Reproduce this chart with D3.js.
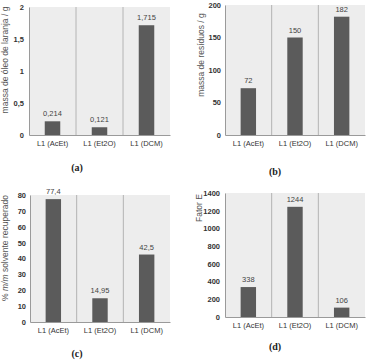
<!DOCTYPE html>
<html><head><meta charset="utf-8">
<script src="https://cdn.jsdelivr.net/npm/d3@7"></script>
<style>body{margin:0;background:#fff}svg{display:block}</style>
</head><body>
<svg id="c" width="370" height="363"></svg>
<script>
const categories = ["L1 (AcEt)", "L1 (Et2O)", "L1 (DCM)"];
const oilMass = [0.214, 0.121, 1.715];
const oilLabels = ["0,214", "0,121", "1,715"];
const residueMass = [72, 150, 182];
const residueLabels = ["72", "150", "182"];
const solventRecovered = [77.4, 14.95, 42.5];
const solventLabels = ["77,4", "14,95", "42,5"];
const eFactor = [338, 1244, 106];
const eFactorLabels = ["338", "1244", "106"];
const ticksA = [0, 0.5, 1, 1.5, 2];
const ticksB = [0, 50, 100, 150, 200];
const ticksC = [0, 10, 20, 30, 40, 50, 60, 70, 80];
const ticksD = [0, 200, 400, 600, 800, 1000, 1200, 1400];

const svg = d3.select("#c");
const FONT = "'Liberation Sans', Arial, sans-serif";
const fmt = d => String(d).replace(".", ",");

function panel(o) {
  const g = svg.append("g");
  const x = d3.scaleBand().domain(categories).range([o.x0, o.x1]).padding(0);
  const y = d3.scaleLinear().domain([0, o.max]).range([o.yBot, o.yTop]);
  g.append("rect").attr("x", o.x0).attr("y", o.yTop).attr("width", o.x1 - o.x0)
    .attr("height", o.yBot - o.yTop).attr("fill", "#ededed");
  g.selectAll("line.div").data(categories.slice(1)).join("line")
    .attr("x1", d => x(d)).attr("x2", d => x(d))
    .attr("y1", o.yTop).attr("y2", o.yBot).attr("stroke", "#b4b4b4").attr("stroke-width", 1);
  const bw = x.bandwidth() * 0.33;
  g.selectAll("rect.bar").data(o.values).join("rect")
    .attr("x", (d, i) => x(categories[i]) + x.bandwidth() / 2 - bw / 2)
    .attr("y", d => y(d)).attr("width", bw).attr("height", d => y(0) - y(d))
    .attr("fill", "#5b5b5b");
  g.selectAll("text.val").data(o.values).join("text")
    .attr("x", (d, i) => x(categories[i]) + x.bandwidth() / 2)
    .attr("y", d => y(d) - 5).attr("text-anchor", "middle")
    .attr("font-family", FONT).attr("font-size", 7.5).attr("fill", "#444")
    .text((d, i) => o.labels[i]);
  const ya = d3.axisLeft(y).tickValues(o.ticks).tickSize(0).tickPadding(o.tickPad).tickFormat(fmt);
  const ag = g.append("g").attr("transform", `translate(${o.x0},0)`).call(ya);
  ag.select(".domain").attr("stroke", "#9a9a9a");
  ag.selectAll("text").attr("font-family", FONT).attr("font-size", 7.5).attr("fill", "#333").attr("font-weight", "bold");
  const xa = d3.axisBottom(x).tickSize(0).tickPadding(o.catPad);
  const xg = g.append("g").attr("transform", `translate(0,${o.yBot})`).call(xa);
  xg.select(".domain").attr("stroke", "#9a9a9a");
  xg.selectAll("text").attr("font-family", FONT).attr("font-size", 7.5).attr("fill", "#333");
  const t = g.append("text").attr("transform", `translate(${o.tx},${o.ty}) rotate(-90)`)
    .attr("text-anchor", "middle").attr("font-family", FONT).attr("font-size", 8.5).attr("fill", "#555");
  o.title(t);
  g.append("text").attr("x", o.lx).attr("y", o.ly).attr("text-anchor", "middle")
    .attr("font-family", "'Liberation Serif', 'Times New Roman', serif").attr("font-weight", "bold")
    .attr("font-size", 10).attr("fill", "#222").text(o.sub);
}

panel({x0: 29, x1: 170, yTop: 7, yBot: 135, max: 2, ticks: ticksA, values: oilMass, labels: oilLabels,
  tickPad: 5, catPad: 6, tx: 8, ty: 60, title: t => t.text("massa de óleo de laranja / g"), lx: 77, ly: 171, sub: "(a)"});
panel({x0: 225, x1: 365, yTop: 5, yBot: 135, max: 200, ticks: ticksB, values: residueMass, labels: residueLabels,
  tickPad: 4, catPad: 6, tx: 204, ty: 55, title: t => t.text("massa de resíduos / g"), lx: 275, ly: 175, sub: "(b)"});
panel({x0: 30, x1: 170, yTop: 195, yBot: 322, max: 80, ticks: ticksC, values: solventRecovered, labels: solventLabels,
  tickPad: 4, catPad: 6, tx: 8, ty: 248, title: t => { t.append("tspan").text("% ");
    t.append("tspan").attr("font-style", "italic").text("m/m");
    t.append("tspan").text(" solvente recuperado"); }, lx: 77, ly: 357, sub: "(c)"});
panel({x0: 225, x1: 365, yTop: 193, yBot: 317, max: 1400, ticks: ticksD, values: eFactor, labels: eFactorLabels,
  tickPad: 5, catPad: 6, tx: 202, ty: 208, title: t => t.text("Fator E"), lx: 275, ly: 350, sub: "(d)"});
</script>
</body></html>
